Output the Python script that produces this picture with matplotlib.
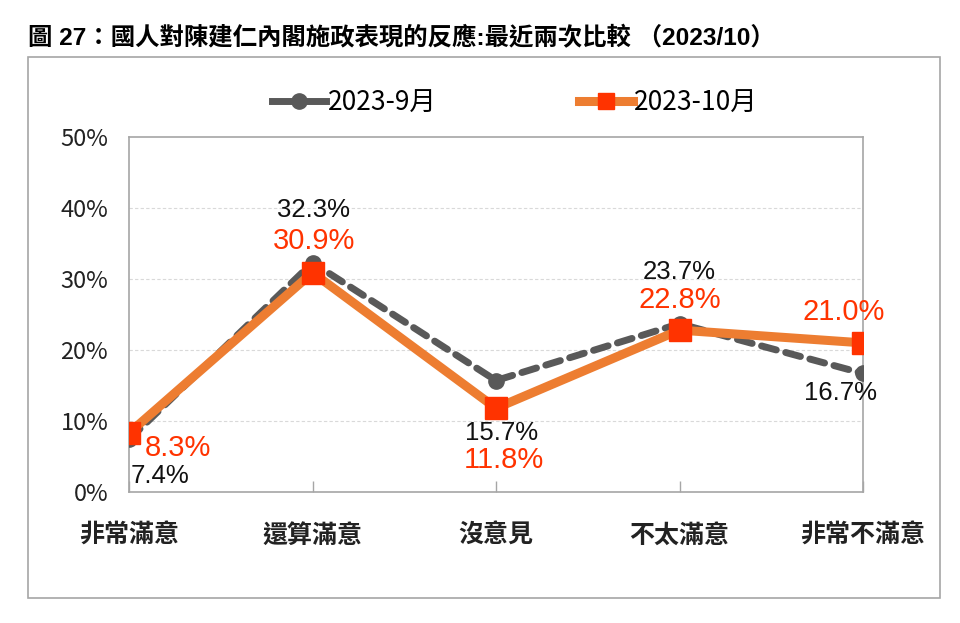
import matplotlib
matplotlib.use("Agg")
import matplotlib.pyplot as plt
from matplotlib.lines import Line2D
from matplotlib.patches import Rectangle

plt.rcParams['font.family'] = ['Liberation Sans', 'Noto Sans CJK TC', 'DejaVu Sans']

categories = ["非常滿意", "還算滿意", "沒意見", "不太滿意", "非常不滿意"]
sep_values = [7.4, 32.3, 15.7, 23.7, 16.7]
oct_values = [8.3, 30.9, 11.8, 22.8, 21.0]
series_names = ["2023-9月", "2023-10月"]
yticks = [0, 10, 20, 30, 40, 50]
title = "圖 27：國人對陳建仁內閣施政表現的反應:最近兩次比較 （2023/10）"

W, H = 960, 623
fig = plt.figure(figsize=(W / 100, H / 100), dpi=100)

# outer frame
fig.patches.append(Rectangle((28 / W, 1 - 598 / H), (940 - 28) / W, (598 - 57) / H,
                             transform=fig.transFigure, fill=False,
                             edgecolor="#A6A6A6", linewidth=1.2))

fig.text(28 / W, 1 - 38 / H, title, fontsize=17.6, fontweight="bold",
         family=['Liberation Sans', 'Noto Sans CJK TC'], va="center", ha="left")

ax = fig.add_axes([129 / W, 1 - 492 / H, (863 - 129) / W, (492 - 137) / H])
x = list(range(len(categories)))
ax.set_xlim(0, len(categories) - 1)
ax.set_ylim(0, 50)

for y in yticks[1:-1]:
    ax.axhline(y, color="#D9D9D9", linewidth=0.8, linestyle=(0, (3, 2)), zorder=0)

for s in ax.spines.values():
    s.set_color("#A6A6A6")
    s.set_linewidth(1.2)

ax.set_yticks(yticks)
ax.set_yticklabels([f"{v}%" for v in yticks], fontsize=17, color="#222222",
                   family=['Noto Sans CJK TC'])
ax.tick_params(axis="y", length=0, pad=15)
ax.set_xticks(x)
ax.set_xticklabels([])
ax.tick_params(axis="x", direction="in", length=8, color="#A6A6A6", width=1)
for i, c in enumerate(categories):
    ax.text(i, -6.2, c, ha="center", va="center", fontsize=18, fontweight="bold",
            family=['Noto Sans CJK TC'], color="#222222", clip_on=False)

ax.plot(x, sep_values, color="#595959", linewidth=5, linestyle=(0, (2.2, 1.4)),
        marker="o", markersize=11, markerfacecolor="#595959",
        markeredgecolor="#595959", zorder=3, solid_capstyle="round",
        dash_capstyle="round")
ax.plot(x, oct_values, color="#ED7D31", linewidth=6.5, marker="s", markersize=16,
        markerfacecolor="#FF3300", markeredgecolor="#FF3300", zorder=4,
        solid_joinstyle="miter")

# data labels (offsets in points)
sep_off = [(22, -26), (1, 38), (4, -38), (0, 37), (-16, -14)]
oct_off = [(35, -11), (1, 23), (6, -37), (0, 22), (-14, 22)]
for i, v in enumerate(sep_values):
    ax.annotate(f"{v:.1f}%", (i, v), xytext=sep_off[i], textcoords="offset points",
                ha="center", va="center", fontsize=18.5, color="#111111", zorder=6,
                annotation_clip=False)
for i, v in enumerate(oct_values):
    ax.annotate(f"{v:.1f}%", (i, v), xytext=oct_off[i], textcoords="offset points",
                ha="center", va="center", fontsize=21, color="#FF3300", zorder=6,
                annotation_clip=False)

handles = [
    Line2D([], [], color="#595959", linewidth=5, marker="o", markersize=11,
           markerfacecolor="#595959", markeredgecolor="#595959"),
    Line2D([], [], color="#ED7D31", linewidth=6.5, marker="s", markersize=11,
           markerfacecolor="#FF3300", markeredgecolor="#FF3300"),
]
leg = fig.legend(handles, series_names, loc="center", bbox_to_anchor=(515 / W, 1 - 103 / H),
                 ncol=2, frameon=False, handlelength=2.05,
                 handletextpad=0.05, columnspacing=5.4,
                 prop={"family": ['Noto Sans CJK TC'], "size": 19})

fig.savefig("out.png", dpi=100)
